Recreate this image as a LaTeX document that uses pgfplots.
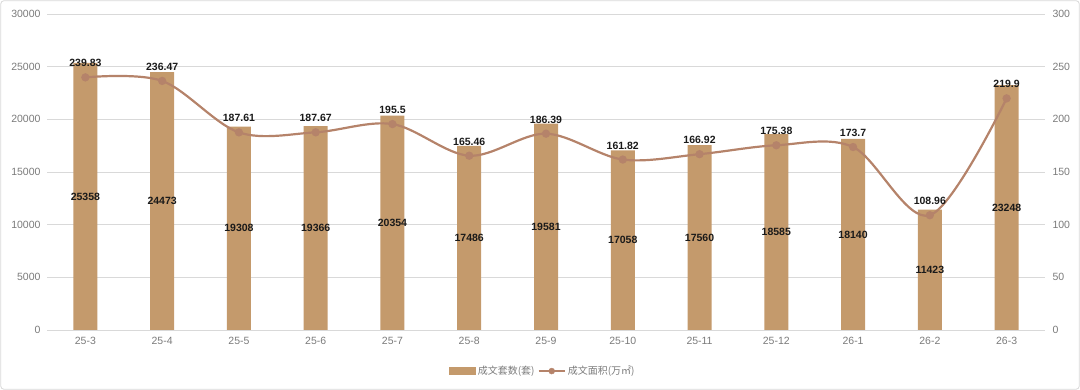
\documentclass[border=0pt]{standalone}
\usepackage{pgfplots}
\pgfplotsset{compat=1.18}
\usepackage{pgfplotstable}
\usepackage{fontspec}
\setmainfont{Liberation Sans}
\newfontfamily\cjk{Noto Sans CJK SC}
\definecolor{barc}{HTML}{C49A6C}
\definecolor{linec}{HTML}{B5836A}
\definecolor{tickc}{HTML}{7A7A7A}
\definecolor{gridc}{HTML}{D9D9D9}
\definecolor{labc}{HTML}{1A1A1A}

\pgfplotstableread{
x n a alab
0 25358 239.83 239.83
1 24473 236.47 236.47
2 19308 187.61 187.61
3 19366 187.67 187.67
4 20354 195.5 195.5
5 17486 165.46 165.46
6 19581 186.39 186.39
7 17058 161.82 161.82
8 17560 166.92 166.92
9 18585 175.38 175.38
10 18140 173.7 173.7
11 11423 108.96 108.96
12 23248 219.9 219.9
}\data

\begin{document}
\begin{tikzpicture}[x=1pt,y=1pt]
\path[use as bounding box] (0,0) rectangle (1080,390);
\draw[gridc, line width=0.8pt, rounded corners=3pt] (0.8,0.8) rectangle (1079.2,389.2);
\begin{axis}[
  at={(47pt,60pt)}, anchor=south west,
  scale only axis, width=998pt, height=316pt,
  xmin=-0.5, xmax=12.5, ymin=0, ymax=30000,
  ytick={0,5000,...,30000},
  ymajorgrids, grid style={gridc, line width=0.8pt},
  axis x line*=bottom, axis y line*=left,
  y axis line style={draw=none},
  x axis line style={gridc, line width=0.8pt, -},
  major tick length=0pt,
  xtick=data,
  xticklabels={25-3,25-4,25-5,25-6,25-7,25-8,25-9,25-10,25-11,25-12,26-1,26-2,26-3},
  /pgf/number format/assume math mode=true,
  tick label style={font=\fontsize{10.5}{12}\selectfont, text=tickc},
  xticklabel style={yshift=-4pt},
  yticklabel style={xshift=-3pt},
  scaled y ticks=false,
  yticklabel={\pgfmathprintnumber[assume math mode=true,fixed,1000 sep={}]{\tick}},
  legend style={at={(0.497,-0.13)}, anchor=center, draw=none, fill=none,
    legend columns=2, font=\cjk\fontsize{10}{12}\selectfont, text=tickc,
    /tikz/every even column/.append style={column sep=1pt}},
  legend cell align=left,
]
\addplot[ybar, bar width=24pt, fill=barc, draw=none, forget plot] table[x=x, y=n] {\data};
\addplot[draw=none, mark=none, forget plot, nodes near coords, point meta=explicit symbolic,
  nodes near coords style={font=\bfseries\fontsize{10.5}{12}\selectfont, text=labc, anchor=center}]
  table[x=x, y expr=\thisrow{n}/2, meta=n] {\data};
\addlegendimage{legend image code/.code={\fill[barc] (0pt,-3.5pt) rectangle (26pt,3.5pt);}}
\addlegendentry{成文套数(套)}
\addlegendimage{legend image code/.code={\draw[linec, line width=2.2pt] (0pt,0pt) -- (26pt,0pt); \fill[linec] (13pt,0pt) circle (3pt);}}
\addlegendentry{成文面积(万㎡)}
\end{axis}
\begin{axis}[
  at={(47pt,60pt)}, anchor=south west,
  scale only axis, width=998pt, height=316pt,
  xmin=-0.5, xmax=12.5, ymin=0, ymax=300,
  ytick={0,50,...,300},
  axis y line*=right, axis x line=none,
  y axis line style={draw=none},
  major tick length=0pt,
  /pgf/number format/assume math mode=true,
  tick label style={font=\fontsize{10.5}{12}\selectfont, text=tickc},
  yticklabel={\pgfmathprintnumber[assume math mode=true]{\tick}},
  yticklabel style={xshift=4pt},
]
\addplot[linec, line width=2.2pt, smooth, tension=0.55, mark=*, mark size=3pt,
  mark options={fill=linec, draw=linec},
  nodes near coords, point meta=explicit symbolic,
  nodes near coords style={font=\bfseries\fontsize{10.5}{12}\selectfont, text=labc, anchor=south, yshift=6pt}]
  table[x=x, y=a, meta=alab] {\data};
\end{axis}
\end{tikzpicture}
\end{document}
